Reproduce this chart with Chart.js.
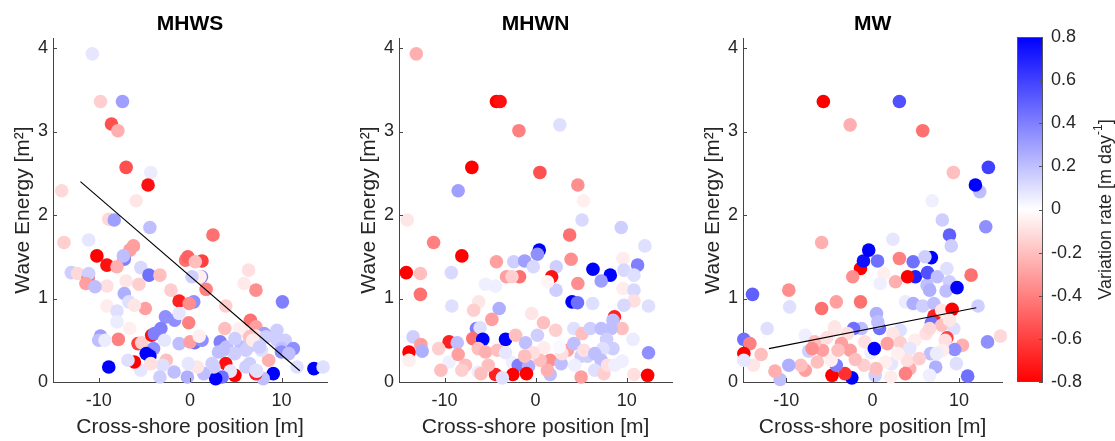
<!DOCTYPE html>
<html><head><meta charset="utf-8">
<script src="https://cdn.jsdelivr.net/npm/chart.js@4.4.0/dist/chart.umd.min.js"></script>
<style>
html,body{margin:0;padding:0;background:#fff;}
#wrap{position:relative;width:1115px;height:441px;overflow:hidden;background:#fff;}
canvas{position:absolute;top:0;}
</style></head><body>
<div id="wrap">
<canvas id="p1" width="334" height="441" style="left:0px"></canvas>
<canvas id="p2" width="333" height="441" style="left:346px"></canvas>
<canvas id="p3" width="319" height="441" style="left:690px"></canvas>
<canvas id="cb" width="105" height="441" style="left:1010px"></canvas>
</div>
<script>
// ---------- labels & ticks ----------
const panelTitles = ['MHWS', 'MHWN', 'MW'];
const xLabel = 'Cross-shore position [m]';
const yLabel = 'Wave Energy [m\u00B2]';
const cbLabelMain = 'Variation rate [m day';
const cbLabelSup = '-1';
const cbLabelEnd = ']';
const xTicks = [-10, 0, 10];
const yTicks = [0, 1, 2, 3, 4];
const cbTicks = [-0.8, -0.6, -0.4, -0.2, 0, 0.2, 0.4, 0.6, 0.8];

// ---------- MHWS ----------
const mhwsX = [
 -10.7,-9.8,-7.4,-8.6,-7.9,-7.0,-4.3,-4.6,-14.05,-5.9,
 -8.9,-8.3,-4.4,2.5,-13.8,-11.1,-6.2,-6.6,-10.2,-7.2,
 -7.3,-9.1,-8.0,-0.5,-0.25,1.3,0.57,-13.0,-12.3,-11.15,
 -11.1,-11.4,-9.1,-10.4,-5.4,-4.5,-3.3,-7.0,-5.6,-7.2,
 -6.7,-2.1,1.25,1.1,0.2,1.75,6.4,5.9,7.2,10.1,
 -1.2,0.4,-0.1,-9.1,-8.0,-4.9,-6.1,3.9,-8.0,-6.6,
 -0.15,-2.7,-1.7,-1.2,-3.2,3.8,6.6,7.2,5.6,9.5,
 8.1,-7.85,-9.8,-10.0,-9.3,-5.7,-5.3,-4.2,-3.9,-4.0,
 -4.8,-4.4,-2.8,-1.2,0.5,0.0,1.3,1.0,3.3,4.0,
 3.1,4.8,5.6,6.4,6.8,7.2,6.5,9.5,10.4,10.0,
 10.0,11.3,10.8,11.7,13.55,14.55,9.1,8.6,7.8,8.0,
 7.2,7.3,6.5,4.9,3.9,4.4,3.5,2.8,2.6,1.5,
 0.8,-0.3,-0.2,-1.75,-2.6,-3.0,-3.3,-5.4,-6.1,-6.8,
 -8.9,-4.3,2.4,4.9,6.1,6.85,7.6,6.1,7.2,3.6,
 5.4,4.9,8.3];
const mhwsY = [
 3.93,3.36,3.36,3.09,3.01,2.57,2.51,2.36,2.29,2.17,
 1.95,1.94,1.85,1.76,1.67,1.70,1.63,1.58,1.51,1.47,
 1.51,1.40,1.38,1.46,1.50,1.45,1.44,1.31,1.30,1.25,
 1.30,1.18,1.15,1.14,1.37,1.28,1.28,1.21,1.17,1.06,
 0.96,1.10,1.26,1.26,1.26,1.11,1.34,1.18,1.10,0.96,
 0.97,0.96,0.94,0.91,0.85,0.88,0.92,0.91,0.72,0.64,
 0.71,0.78,0.74,0.82,0.64,0.64,0.74,0.66,0.62,0.62,
 0.58,0.51,0.55,0.50,0.50,0.46,0.47,0.56,0.58,0.40,
 0.34,0.31,0.50,0.46,0.47,0.48,0.50,0.55,0.48,0.42,
 0.36,0.34,0.42,0.42,0.45,0.55,0.54,0.50,0.50,0.40,
 0.36,0.40,0.34,0.18,0.16,0.18,0.10,0.26,0.38,0.04,
 0.10,0.13,0.22,0.08,0.22,0.13,0.06,0.04,0.18,0.10,
 0.18,0.06,0.22,0.12,0.26,0.20,0.06,0.14,0.24,0.26,
 0.18,0.22,0.22,0.34,0.38,0.50,0.42,0.18,0.14,0.38,
 0.64,0.52,0.54];
const mhwsRate = [
 0.08,-0.15,0.3,-0.55,-0.25,-0.55,0.06,-0.75,-0.12,-0.08,
 -0.12,0.3,0.2,-0.45,-0.15,0.08,-0.3,-0.3,-0.8,0.4,
 0.2,-0.75,-0.25,-0.45,-0.5,-0.6,-0.2,0.15,-0.12,-0.45,
 0.15,-0.3,-0.1,0.2,0.12,0.45,-0.2,-0.08,-0.15,0.25,
 0.1,-0.15,0.4,-0.05,0.15,-0.4,-0.1,-0.07,-0.35,0.4,
 -0.7,0.35,-0.35,-0.06,0.1,-0.3,-0.08,-0.15,0.06,-0.05,
 -0.4,0.35,0.35,0.08,0.4,-0.2,-0.45,-0.3,-0.08,0.15,
 0.3,-0.4,0.3,0.2,0.06,-0.6,-0.15,-0.75,0.4,0.35,
 0.8,0.8,0.08,0.2,0.45,-0.3,0.35,-0.05,0.4,0.2,
 0.2,0.1,0.2,0.15,0.15,-0.1,-0.2,0.15,0.15,0.2,
 0.35,0.35,0.2,0.1,0.8,0.1,0.8,-0.25,0.1,0.2,
 -0.7,0.08,0.15,-0.8,-0.75,0.08,0.45,0.8,0.15,0.2,
 -0.08,0.25,0.08,0.2,-0.2,0.1,0.15,0.08,-0.8,0.1,
 0.8,-0.1,0.15,0.15,0.15,-0.06,0.15,0.15,0.1,0.2,
 -0.05,0.15,0.15];
const mhwsTrendX = [-12, 12];
const mhwsTrendY = [2.40, 0.135];

// ---------- MHWN ----------
const mhwnX = [
 -13.1,-4.3,-3.9,-1.83,2.66,-7.0,0.47,-8.5,4.64,5.25,
 -14.1,5.1,-11.2,3.74,9.4,12.0,-8.1,-14.2,-12.65,-12.65,
 -9.25,-4.3,-2.4,-1.2,0.4,0.2,-0.25,2.27,3.9,6.3,
 8.2,7.2,9.6,9.7,11.2,10.8,1.76,4.64,2.24,-1.76,
 -3.2,-2.6,-5.5,-4.4,1.3,4.0,4.6,6.26,9.6,10.8,
 10.8,9.7,12.4,-9.2,-6.25,-6.8,-4.0,-4.8,-0.43,0.86,
 8.66,8.5,9.5,-6.5,-6.1,-13.45,-9.5,-8.6,-10.65,-12.6,
 -12.45,-13.9,-13.9,-9.5,-10.4,-8.5,-7.7,-8.1,-6.9,-5.8,
 -6.3,-5.5,-4.2,-3.3,-2.2,-1.1,0.2,0.9,2.2,1.6,
 2.8,3.5,4.2,5.1,6.0,7.2,8.3,7.8,8.5,7.4,
 5.7,7.2,6.5,7.5,9.5,10.8,12.3,12.4,10.7,5.0,
 1.6,-2.55,-3.3,-1.9,-0.78,-1.0,-2.5,-4.4,-3.65,-5.2,
 -6.3,-6.0,2.9,5.0,4.3,0.5,-0.25,2.6,4.2,5.3,
 6.5,7.9,8.7,-1.2,1.3];
const mhwnY = [
 3.93,3.36,3.36,3.01,3.08,2.57,2.51,2.29,2.36,2.17,
 1.94,1.94,1.67,1.76,1.85,1.63,1.51,1.31,1.30,1.05,
 1.31,1.44,1.44,1.45,1.58,1.53,1.38,1.38,1.47,1.35,
 1.28,1.21,1.48,1.34,1.40,1.28,1.26,1.18,1.10,1.26,
 1.26,1.26,1.17,1.15,1.20,0.96,0.95,0.94,1.12,1.10,
 0.97,0.92,0.91,0.91,0.96,0.86,0.88,0.75,0.82,0.71,
 0.78,0.74,0.64,0.64,0.65,0.54,0.48,0.47,0.40,0.45,
 0.37,0.36,0.26,0.24,0.14,0.33,0.20,0.14,0.52,0.51,
 0.40,0.36,0.38,0.51,0.56,0.47,0.56,0.41,0.62,0.26,
 0.22,0.38,0.64,0.58,0.64,0.64,0.64,0.51,0.40,0.40,
 0.31,0.26,0.14,0.10,0.25,0.09,0.08,0.35,0.51,0.06,
 0.09,0.23,0.35,0.20,0.19,0.10,0.09,0.09,0.05,0.20,
 0.12,0.10,0.34,0.31,0.20,0.26,0.35,0.42,0.46,0.38,
 0.34,0.20,0.20,0.31,0.14];
const mhwnRate = [
 -0.25,-0.8,-0.75,-0.4,0.1,-0.8,-0.55,0.3,-0.35,-0.05,
 -0.08,0.12,-0.4,-0.45,0.15,0.1,-0.8,-0.8,-0.2,-0.45,
 0.12,-0.3,0.15,0.3,0.8,0.35,0.12,0.15,-0.35,0.8,
 0.8,0.3,-0.06,0.12,0.4,0.1,-0.75,-0.35,0.15,-0.45,
 -0.3,-0.15,0.05,0.05,-0.03,0.8,0.45,0.1,-0.06,0.12,
 -0.1,0.12,0.1,0.1,-0.08,-0.15,0.25,-0.3,-0.08,-0.2,
 -0.7,0.2,-0.2,0.4,0.1,0.15,-0.7,0.2,-0.15,-0.3,
 0.25,-0.8,-0.05,0.05,-0.2,-0.3,-0.2,-0.15,-0.45,0.8,
 -0.2,-0.25,-0.2,0.8,-0.2,0.2,0.15,-0.06,-0.15,-0.35,
 0.2,-0.3,0.1,-0.2,0.15,0.2,0.2,0.15,0.15,0.1,
 0.15,0.2,0.1,-0.15,0.05,-0.1,-0.8,0.35,0.06,-0.3,
 0.2,0.05,0.08,0.4,0.25,-0.8,-0.8,-0.7,0.1,-0.2,
 0.05,-0.2,-0.1,0.15,0.05,-0.2,-0.1,0.02,0.2,-0.1,
 0.2,-0.1,0.05,-0.2,-0.25];

// ---------- MW ----------
const mwX = [
 -5.7,3.1,-2.6,5.8,13.4,9.35,12.4,11.9,6.9,8.07,
 13.1,8.9,9.1,-5.9,2.35,-1.4,-1.06,-0.45,0.57,-2.3,
 1.3,0.87,3.1,2.65,4.95,4.05,4.7,6.8,6.06,6.3,
 6.6,6.36,7.5,8.6,8.9,8.5,9.77,11.4,-13.9,-9.7,
 -9.6,-5.9,-4.2,-1.4,3.8,4.7,5.8,7.1,12.2,7.1,
 8.0,9.2,6.8,8.0,9.4,8.9,8.6,8.4,10.4,13.3,
 14.8,9.5,9.7,11.0,7.3,6.7,6.6,4.9,3.2,2.35,
 0.8,0.45,0.6,-1.3,-2.2,-2.9,-4.4,-0.9,-0.2,0.2,
 1.7,3.2,4.3,4.3,3.8,2.2,1.5,2.1,0.3,0.4,
 -1.0,-2.4,-3.2,-4.7,-4.2,-4.8,-3.6,-2.6,-2.0,-5.8,
 -7.4,-7.8,-8.3,-9.7,-10.7,-11.3,-12.9,-13.8,-14.9,-14.2,
 -14.9,-14.9,-12.2,-7.8,-6.7,-4.4,-5.3,-4.0,-6.4,-7.0,
 8.1,7.4,6.2,6.6,4.0,2.9,5.4];
const mwY = [
 3.36,3.36,3.08,3.01,2.57,2.51,2.28,2.36,2.17,1.94,
 1.86,1.76,1.63,1.67,1.71,1.36,1.45,1.58,1.45,1.26,
 1.30,1.18,1.48,1.20,1.26,1.26,1.44,1.49,1.50,1.16,
 1.10,1.31,1.26,1.36,1.20,1.09,1.13,1.28,1.05,1.10,
 0.90,0.88,0.96,0.96,0.96,0.94,0.91,0.94,0.91,0.79,
 0.86,0.87,0.71,0.68,0.64,0.74,0.53,0.50,0.44,0.48,
 0.55,0.39,0.22,0.07,0.18,0.34,0.08,0.50,0.62,0.58,
 0.64,0.82,0.72,0.64,0.64,0.58,0.64,0.48,0.35,0.40,
 0.46,0.47,0.40,0.16,0.10,0.22,0.24,0.06,0.08,0.16,
 0.20,0.05,0.10,0.08,0.20,0.26,0.46,0.38,0.27,0.38,
 0.37,0.14,0.20,0.20,0.03,0.13,0.33,0.20,0.51,0.46,
 0.34,0.26,0.64,0.56,0.48,0.66,0.53,0.38,0.24,0.40,
 0.38,0.34,0.58,0.64,0.26,0.34,0.28];
const mwRate = [
 -0.8,0.55,-0.25,-0.45,0.6,-0.2,0.2,0.8,0.05,0.15,
 0.35,0.5,0.15,-0.25,0.08,-0.8,0.75,0.8,0.45,-0.35,
 -0.05,0.05,-0.4,-0.25,0.7,-0.8,0.45,0.8,0.15,0.2,
 0.25,0.55,0.2,0.1,0.15,0.2,0.8,-0.45,0.5,-0.35,
 0.1,-0.45,-0.3,-0.45,0.06,0.25,0.15,0.2,0.15,-0.7,
 -0.08,-0.8,0.45,-0.2,0.1,-0.08,-0.6,-0.1,-0.25,0.35,
 -0.12,0.35,0.1,0.45,0.25,0.2,0.05,-0.06,0.1,-0.08,
 0.45,0.25,0.2,0.2,0.45,-0.1,-0.1,-0.1,0.05,0.8,
 -0.3,-0.15,0.08,-0.25,-0.4,0.08,-0.05,-0.06,0.15,-0.2,
 -0.15,0.8,-0.65,-0.8,0.4,-0.05,-0.3,-0.3,-0.2,-0.3,
 0.15,-0.3,-0.2,0.25,0.2,-0.25,-0.2,-0.08,0.45,-0.4,
 -0.8,0.08,0.1,0.05,-0.2,-0.08,-0.1,-0.2,-0.2,-0.35,
 -0.06,0.06,-0.1,-0.12,-0.1,-0.05,-0.15];
const mwTrendX = [-12, 12];
const mwTrendY = [0.40, 0.89];

// ---------- styling ----------
const FONT = "'Liberation Sans', Arial, Helvetica, sans-serif";
const AXIS = '#454545';
const TEXT = '#262626';
const RATE_MAX = 0.8;

function rateColor(r) {
  const t = Math.min(1, Math.abs(r) / RATE_MAX);
  const v = Math.round(255 * (1 - t));
  return r < 0 ? `rgb(255,${v},${v})` : `rgb(${v},${v},255)`;
}

const inwardTicks = {
  id: 'inwardTicks',
  afterDraw(chart) {
    const {ctx, chartArea: a, scales} = chart;
    ctx.save();
    ctx.strokeStyle = AXIS;
    ctx.lineWidth = 1;
    scales.x.ticks.forEach(t => {
      const p = Math.round(scales.x.getPixelForValue(t.value)) + 0.5;
      ctx.beginPath(); ctx.moveTo(p, a.bottom); ctx.lineTo(p, a.bottom - 4); ctx.stroke();
    });
    scales.y.ticks.forEach(t => {
      const p = Math.round(scales.y.getPixelForValue(t.value)) + 0.5;
      ctx.beginPath(); ctx.moveTo(a.left, p); ctx.lineTo(a.left + 4, p); ctx.stroke();
    });
    ctx.restore();
  }
};

function makePanel(id, title, xs, ys, rates, tx, ty) {
  const datasets = [{
    type: 'scatter',
    data: xs.map((x, i) => ({x: x, y: ys[i]})),
    pointBackgroundColor: rates.map(rateColor),
    pointBorderWidth: 0,
    pointBorderColor: 'rgba(0,0,0,0)',
    pointRadius: 6.8,
    pointHoverRadius: 6.8,
    clip: false,
    order: 2
  }];
  if (tx) {
    datasets.push({
      type: 'line',
      data: tx.map((x, i) => ({x: x, y: ty[i]})),
      borderColor: '#000',
      borderWidth: 1.1,
      pointRadius: 0,
      fill: false,
      order: 1
    });
  }
  return new Chart(document.getElementById(id), {
    type: 'scatter',
    data: {datasets},
    options: {
      responsive: false, animation: false, devicePixelRatio: 1, events: [],
      layout: {padding: {left: 0, right: 2, top: 0, bottom: 0}},
      plugins: {
        legend: {display: false}, tooltip: {enabled: false},
        title: {display: true, text: title, fullSize: false, color: '#000',
          font: {family: FONT, size: 21, weight: 'bold', lineHeight: 1},
          padding: {top: 14, bottom: 3}}
      },
      scales: {
        x: {
          type: 'linear', min: -15, max: 15,
          afterBuildTicks: s => { s.ticks = xTicks.map(v => ({value: v})); },
          afterFit: s => { s.height = 59; },
          grid: {display: false, drawTicks: false},
          border: {display: true, color: AXIS, width: 1},
          ticks: {color: TEXT, font: {family: FONT, size: 18, lineHeight: 1.2}, padding: 8,
            maxRotation: 0, autoSkip: false, callback: v => String(v)},
          title: {display: true, text: xLabel, color: TEXT,
            font: {family: FONT, size: 21, lineHeight: 1}, padding: {top: 0, bottom: 3.5}}
        },
        y: {
          type: 'linear', min: 0, max: 4.12,
          afterBuildTicks: s => { s.ticks = yTicks.map(v => ({value: v})); },
          afterFit: s => { s.width = 53; },
          grid: {display: false, drawTicks: false},
          border: {display: true, color: AXIS, width: 1},
          ticks: {color: TEXT, font: {family: FONT, size: 18, lineHeight: 1.2}, padding: 5,
            autoSkip: false, callback: v => String(v)},
          title: {display: true, text: yLabel, color: TEXT,
            font: {family: FONT, size: 21, lineHeight: 1}, padding: {top: 12.5, bottom: 0}}
        }
      }
    },
    plugins: [inwardTicks]
  });
}

makePanel('p1', panelTitles[0], mhwsX, mhwsY, mhwsRate, mhwsTrendX, mhwsTrendY);
makePanel('p2', panelTitles[1], mhwnX, mhwnY, mhwnRate, null, null);
makePanel('p3', panelTitles[2], mwX, mwY, mwRate, mwTrendX, mwTrendY);

// ---------- colorbar ----------
const colorbarPlugin = {
  id: 'colorbarFill',
  beforeDatasetsDraw(chart) {
    const {ctx, chartArea: a, scales} = chart;
    const y = scales.y;
    const g = ctx.createLinearGradient(0, y.getPixelForValue(-RATE_MAX), 0, y.getPixelForValue(RATE_MAX));
    g.addColorStop(0, rateColor(-RATE_MAX));
    g.addColorStop(0.5, rateColor(0));
    g.addColorStop(1, rateColor(RATE_MAX));
    ctx.save();
    ctx.fillStyle = g;
    ctx.fillRect(a.left, a.top, a.right - a.left, a.bottom - a.top);
    ctx.strokeStyle = '#555';
    ctx.lineWidth = 1;
    ctx.strokeRect(Math.round(a.left) + 0.5, Math.round(a.top) + 0.5,
      Math.round(a.right - a.left) - 1, Math.round(a.bottom - a.top) - 1);
    y.ticks.forEach(t => {
      const p = Math.round(y.getPixelForValue(t.value)) + 0.5;
      ctx.beginPath(); ctx.moveTo(a.right, p); ctx.lineTo(a.right - 4, p); ctx.stroke();
    });
    // rotated label with superscript
    const big = `18px ${FONT}`, small = `12px ${FONT}`;
    ctx.font = big; const w1 = ctx.measureText(cbLabelMain).width;
    const w3 = ctx.measureText(cbLabelEnd).width;
    ctx.font = small; const w2 = ctx.measureText(cbLabelSup).width;
    const total = w1 + w2 + w3;
    ctx.translate(96, (a.top + a.bottom) / 2);
    ctx.rotate(-Math.PI / 2);
    ctx.fillStyle = TEXT;
    ctx.textBaseline = 'middle';
    ctx.textAlign = 'left';
    let x0 = -total / 2;
    ctx.font = big; ctx.fillText(cbLabelMain, x0, 0); x0 += w1;
    ctx.font = small; ctx.fillText(cbLabelSup, x0, -7); x0 += w2;
    ctx.font = big; ctx.fillText(cbLabelEnd, x0, 0);
    ctx.restore();
  }
};

new Chart(document.getElementById('cb'), {
  type: 'scatter',
  data: {datasets: [{data: []}]},
  options: {
    responsive: false, animation: false, devicePixelRatio: 1, events: [],
    layout: {padding: {left: 7, right: 0, top: 37, bottom: 59}},
    plugins: {legend: {display: false}, tooltip: {enabled: false}},
    scales: {
      x: {display: false, min: 0, max: 1},
      y: {
        position: 'right', min: -RATE_MAX, max: RATE_MAX,
        afterBuildTicks: s => { s.ticks = cbTicks.map(v => ({value: v})); },
        afterFit: s => { s.width = 72; },
        grid: {display: false, drawTicks: false},
        border: {display: false},
        ticks: {color: TEXT, font: {family: FONT, size: 18, lineHeight: 1.2}, padding: 8,
          autoSkip: false, callback: v => String(v)}
      }
    }
  },
  plugins: [colorbarPlugin]
});
</script>
</body></html>
